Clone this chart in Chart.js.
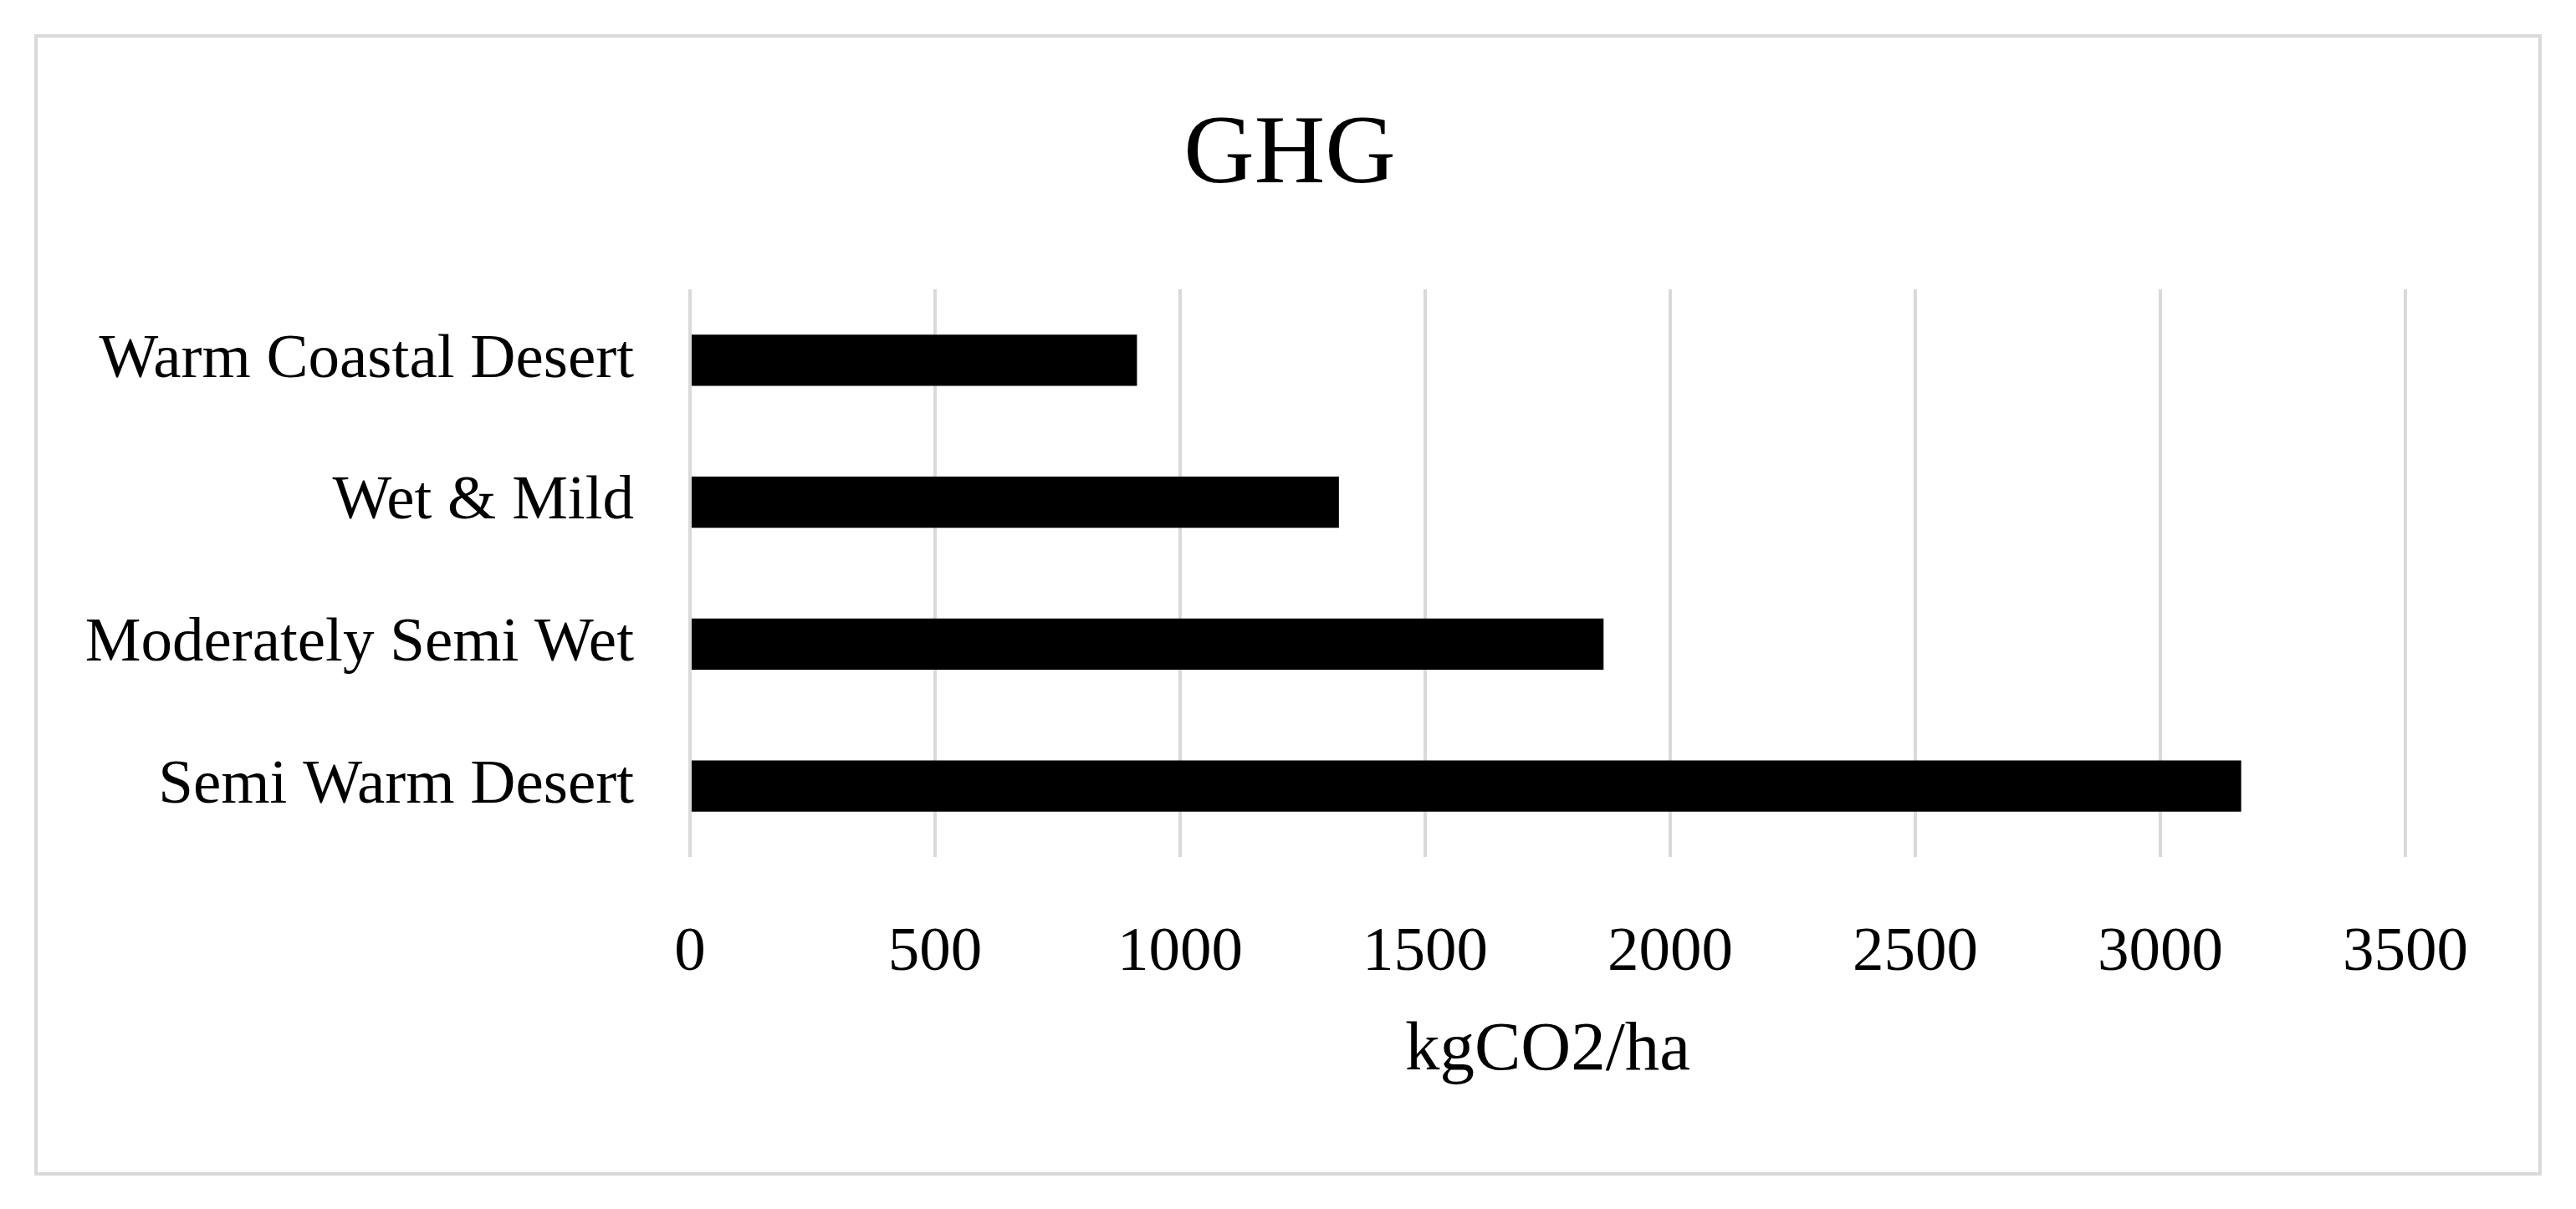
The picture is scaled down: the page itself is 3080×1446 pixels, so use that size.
<!DOCTYPE html>
<html><head><meta charset="utf-8">
<script src="https://cdn.jsdelivr.net/npm/chart.js@4/dist/chart.umd.min.js"></script>
<style>html,body{margin:0;padding:0;background:#fff}#w{width:3080px;height:1446px}</style>
</head><body><div id="w"><canvas id="c"></canvas></div>
<script>
const categories = ["Warm Coastal Desert", "Wet & Mild", "Moderately Semi Wet", "Semi Warm Desert"];
const values = [912, 1324, 1864, 3165];
const xTicks = [0, 500, 1000, 1500, 2000, 2500, 3000, 3500];
const chartTitle = "GHG";
const FONT = "'Liberation Serif', 'Times New Roman', serif";
const frame = {id:'frame', afterDraw(ch){const c=ch.ctx;c.save();c.strokeStyle='#d9d9d9';c.lineWidth=4;c.strokeRect(43,43,2994,1361);
  c.fillStyle='#000';c.font="117px "+FONT;c.textAlign='center';c.textBaseline='middle';c.fillText(chartTitle,1542,187);c.restore();}};
new Chart(document.getElementById('c'), {
  type: 'bar',
  data: { labels: categories, datasets: [{ data: values, backgroundColor: '#000', barPercentage: 0.36, categoryPercentage: 1 }] },
  options: {
    indexAxis: 'y', responsive: true, maintainAspectRatio: false, animation: false, devicePixelRatio: 1,
    layout: { padding: { left: 0, right: 204, top: 346, bottom: 139 } },
    plugins: { legend: { display: false }, tooltip: { enabled: false }, title: { display: false } },
    scales: {
      x: { min: 0, max: 3500, afterBuildTicks(a){a.ticks = xTicks.map(v=>({value:v}));}, afterFit(a){a.height = 282;},
        grid: { color: '#d9d9d9', lineWidth: 4, drawTicks: false }, border: { display: false },
        ticks: { color: '#000', padding: 70, font: { family: FONT, size: 75 }, callback: v => String(v) },
        title: { display: true, text: 'kgCO2/ha', color: '#000', font: { family: FONT, size: 83 }, padding: { top: 0, bottom: 0 } } },
      y: { afterFit(a){a.width = 825;}, grid: { display: false, drawTicks: false }, border: { display: false },
        ticks: { color: '#000', padding: 67, font: { family: FONT, size: 75 } } }
    }
  },
  plugins: [frame]
});
</script></body></html>
